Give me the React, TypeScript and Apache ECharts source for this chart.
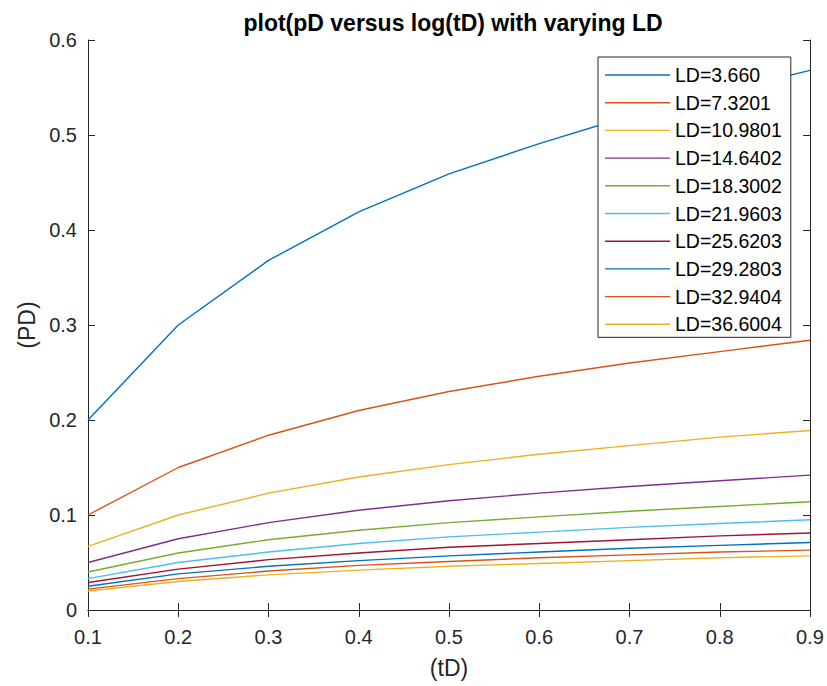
import React, { useEffect, useRef } from "react";
import * as echarts from "echarts";

const tD = [0.1, 0.2, 0.3, 0.4, 0.5, 0.6, 0.7, 0.8, 0.9];
const seriesNames = [
  "LD=3.660",
  "LD=7.3201",
  "LD=10.9801",
  "LD=14.6402",
  "LD=18.3002",
  "LD=21.9603",
  "LD=25.6203",
  "LD=29.2803",
  "LD=32.9404",
  "LD=36.6004",
];
const ld1 = [0.2, 0.3, 0.368, 0.419, 0.459, 0.491, 0.52, 0.545, 0.568];
const ld2 = [0.1, 0.15, 0.184, 0.21, 0.23, 0.246, 0.26, 0.272, 0.284];
const ld3 = [0.067, 0.1, 0.123, 0.14, 0.153, 0.164, 0.173, 0.182, 0.189];
const ld4 = [0.05, 0.075, 0.092, 0.105, 0.115, 0.123, 0.13, 0.136, 0.142];
const ld5 = [0.04, 0.06, 0.074, 0.084, 0.092, 0.098, 0.104, 0.109, 0.114];
const ld6 = [0.033, 0.05, 0.061, 0.07, 0.077, 0.082, 0.087, 0.091, 0.095];
const ld7 = [0.029, 0.043, 0.053, 0.06, 0.066, 0.07, 0.074, 0.078, 0.081];
const ld8 = [0.025, 0.038, 0.046, 0.052, 0.057, 0.061, 0.065, 0.068, 0.071];
const ld9 = [0.022, 0.033, 0.041, 0.047, 0.051, 0.055, 0.058, 0.061, 0.063];
const ld10 = [0.02, 0.03, 0.037, 0.042, 0.046, 0.049, 0.052, 0.055, 0.057];
const allValues = [ld1, ld2, ld3, ld4, ld5, ld6, ld7, ld8, ld9, ld10];
const colors = [
  "#0072BD",
  "#D95319",
  "#EDB120",
  "#7E2F8E",
  "#77AC30",
  "#4DBEEE",
  "#A2142F",
  "#0072BD",
  "#D95319",
  "#EDB120",
];

const FONT = "Liberation Sans, Arial, sans-serif";
const AX = "#262626";

export default function App() {
  const ref = useRef<HTMLDivElement>(null);
  useEffect(() => {
    if (!ref.current) return;
    const chart = echarts.init(ref.current, undefined, { renderer: "svg" });
    const tickCommon = {
      show: true,
      inside: true,
      length: 7,
      lineStyle: { color: AX, width: 1 },
    };
    chart.setOption({
      animation: false,
      backgroundColor: "#ffffff",
      textStyle: { fontFamily: FONT },
      title: {
        text: "plot(pD versus log(tD) with varying LD",
        left: 448,
        textAlign: "center",
        top: 6,
        textStyle: {
          fontFamily: FONT,
          fontSize: 23,
          fontWeight: "bold",
          color: "#000000",
        },
      },
      grid: { left: 88, right: 17, top: 40, bottom: 76, containLabel: false },
      legend: {
        orient: "vertical",
        left: 598,
        top: 57,
        padding: [8, 9, 3, 7],
        icon: "rect",
        itemWidth: 65,
        itemHeight: 1.4,
        itemGap: 7.7,
        itemTextGap: 6,
        backgroundColor: "#ffffff",
        borderColor: AX,
        borderWidth: 1,
        borderRadius: 0,
        textStyle: {
          fontFamily: FONT,
          fontSize: 19.5,
          lineHeight: 20,
          color: "#000000",
        },
        data: seriesNames,
      },
      xAxis: [
        {
          type: "value",
          position: "bottom",
          min: 0.1,
          max: 0.9,
          interval: 0.1,
          name: "(tD)",
          nameLocation: "middle",
          nameGap: 46,
          nameTextStyle: { fontFamily: FONT, fontSize: 23, color: AX },
          axisLine: { show: true, lineStyle: { color: AX, width: 1 } },
          axisTick: tickCommon,
          splitLine: { show: false },
          axisLabel: {
            fontFamily: FONT,
            fontSize: 20,
            color: AX,
            margin: 17,
            formatter: (v: number) => String(Math.round(v * 10) / 10),
          },
        },
        {
          type: "value",
          position: "top",
          min: 0.1,
          max: 0.9,
          interval: 0.1,
          axisLine: { show: true, lineStyle: { color: AX, width: 1 } },
          axisTick: tickCommon,
          splitLine: { show: false },
          axisLabel: { show: false },
        },
      ],
      yAxis: [
        {
          type: "value",
          position: "left",
          min: 0,
          max: 0.6,
          interval: 0.1,
          name: "(PD)",
          nameLocation: "middle",
          nameGap: 47,
          nameTextStyle: { fontFamily: FONT, fontSize: 23, color: AX },
          axisLine: { show: true, lineStyle: { color: AX, width: 1 } },
          axisTick: tickCommon,
          splitLine: { show: false },
          axisLabel: {
            fontFamily: FONT,
            fontSize: 20,
            color: AX,
            margin: 11,
            formatter: (v: number) => String(Math.round(v * 10) / 10),
          },
        },
        {
          type: "value",
          position: "right",
          min: 0,
          max: 0.6,
          interval: 0.1,
          axisLine: { show: true, lineStyle: { color: AX, width: 1 } },
          axisTick: tickCommon,
          splitLine: { show: false },
          axisLabel: { show: false },
        },
      ],
      series: allValues.map((vals, i) => ({
        type: "line",
        name: seriesNames[i],
        xAxisIndex: 0,
        yAxisIndex: 0,
        symbol: "none",
        showSymbol: false,
        color: colors[i],
        lineStyle: { color: colors[i], width: 1.4 },
        data: vals.map((v, j) => [tD[j], v]),
      })),
    });
    return () => chart.dispose();
  }, []);
  return (
    <div
      ref={ref}
      style={{ position: "fixed", left: 0, top: 0, width: 827, height: 686 }}
    />
  );
}
